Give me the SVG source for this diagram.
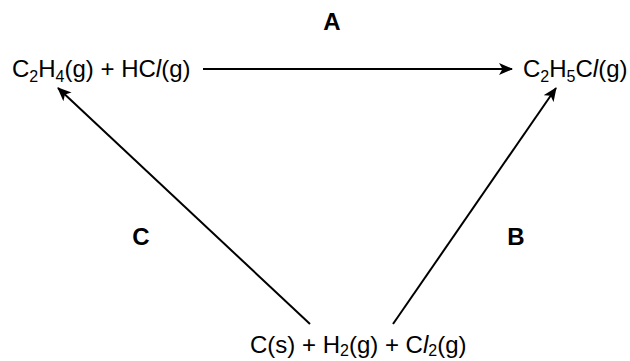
<svg xmlns="http://www.w3.org/2000/svg" width="630" height="361" viewBox="0 0 630 361">
<style>
.t{font-family:"Liberation Sans",Arial,sans-serif;font-size:24px;fill:#000}
.s{font-size:16px}
.b{font-family:"Liberation Sans",Arial,sans-serif;font-size:24px;font-weight:bold;fill:#000}
.e{stroke:#000;stroke-width:2;fill:none}
</style>
<defs>
<marker id="ah" viewBox="0 0 14 12" refX="13" refY="6" markerWidth="14" markerHeight="12" markerUnits="userSpaceOnUse" orient="auto">
<path d="M0,0 L14,6 L0,12 L3.5,6 Z" fill="#000"/>
</marker>
</defs>
<rect width="630" height="361" fill="#fff"/>
<g id="connectors">
<line class="e" x1="203" y1="69" x2="512" y2="69" marker-end="url(#ah)"/>
<line class="e" x1="310" y1="324" x2="58" y2="88" marker-end="url(#ah)"/>
<line class="e" x1="393" y1="324" x2="556" y2="88" marker-end="url(#ah)"/>
</g>
<g id="n1"><text class="t" x="12" y="77">C<tspan class="s" dy="5">2</tspan><tspan dy="-5">H</tspan><tspan class="s" dy="5">4</tspan><tspan dy="-5">(g) + HC</tspan><tspan font-style="italic">l</tspan>(g)</text></g>
<g id="n2"><text class="t" x="523" y="77">C<tspan class="s" dy="5">2</tspan><tspan dy="-5">H</tspan><tspan class="s" dy="5">5</tspan><tspan dy="-5">C</tspan><tspan font-style="italic">l</tspan>(g)</text></g>
<g id="n3"><text class="t" x="250" y="353">C(s) + H<tspan class="s" dy="3">2</tspan><tspan dy="-3">(g) + C</tspan><tspan font-style="italic">l</tspan><tspan class="s" dy="3">2</tspan><tspan dy="-3">(g)</tspan></text></g>
<g id="lA"><text class="b" x="332" y="30" text-anchor="middle">A</text></g>
<g id="lB"><text class="b" x="516" y="245" text-anchor="middle">B</text></g>
<g id="lC"><text class="b" x="141" y="245" text-anchor="middle">C</text></g>
</svg>
